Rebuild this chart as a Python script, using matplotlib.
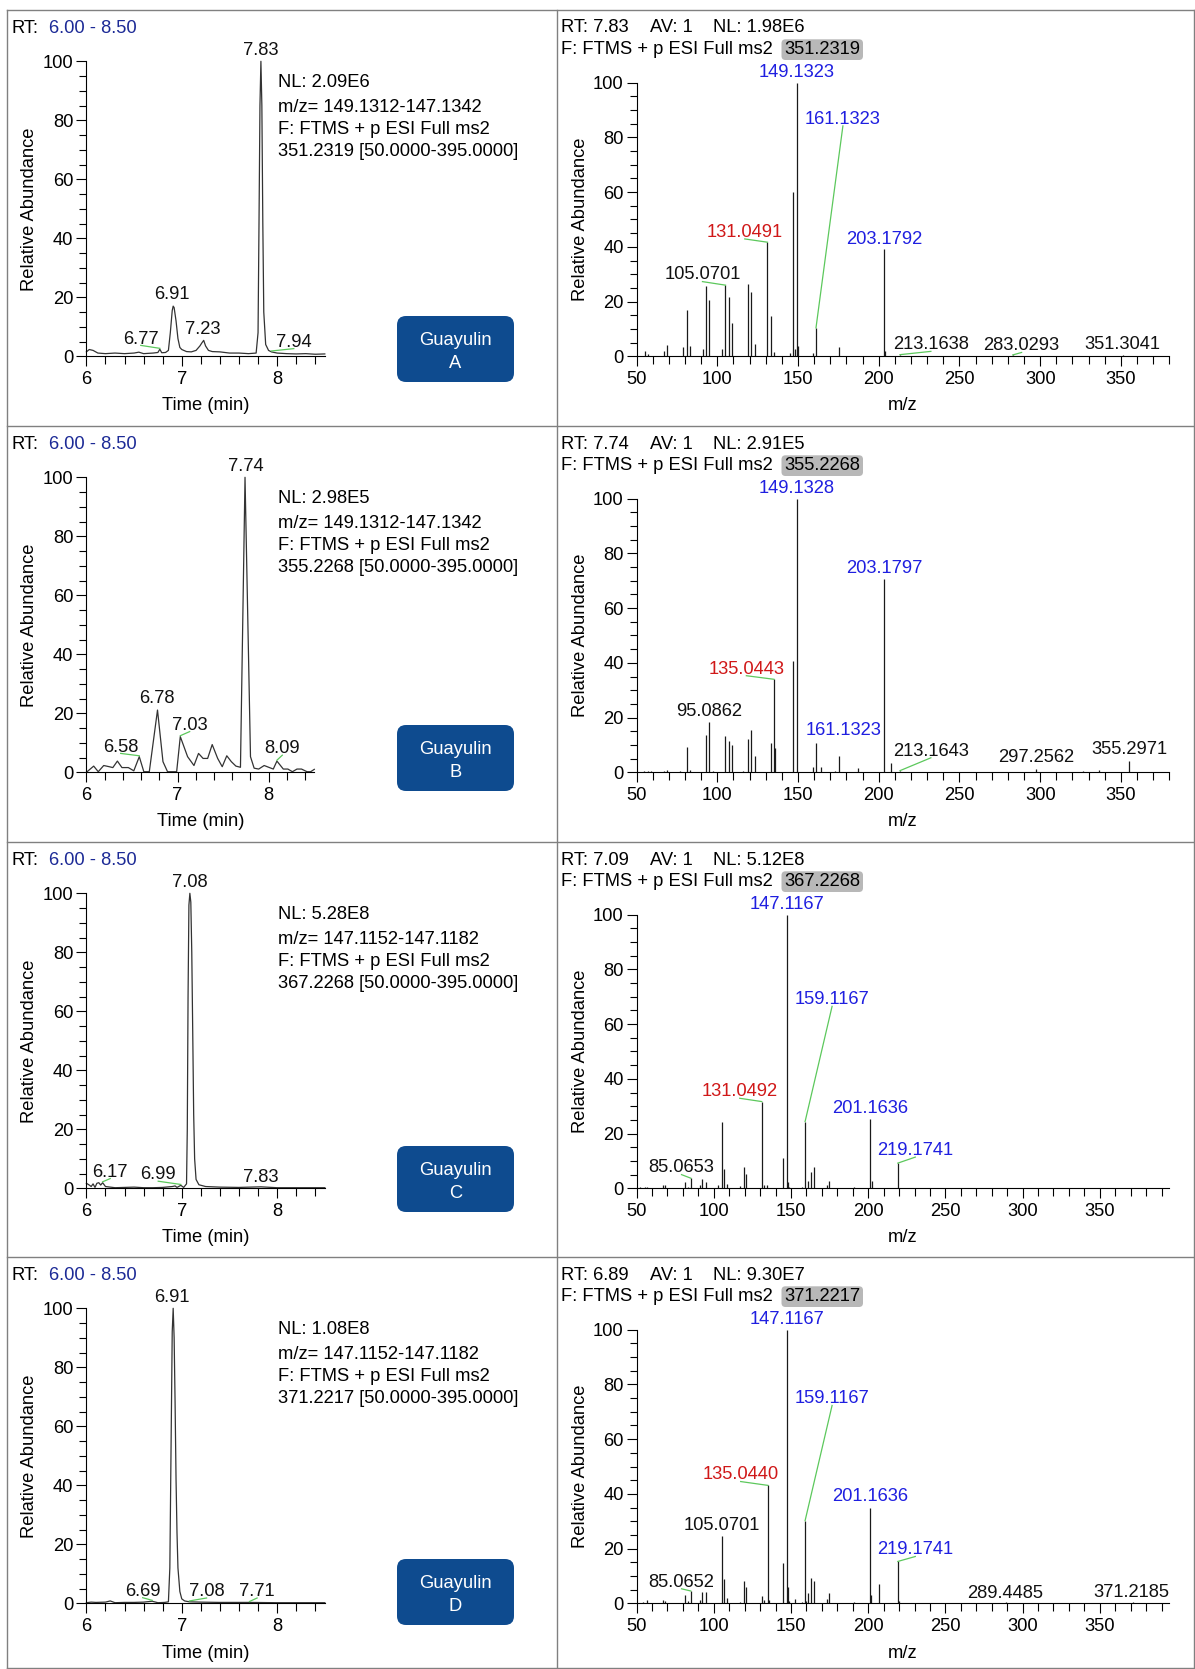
import numpy as np
import matplotlib
import matplotlib.pyplot as plt
from matplotlib.patches import FancyBboxPatch
from matplotlib.ticker import MultipleLocator, FormatStrFormatter

matplotlib.rcParams.update({'font.family': 'Liberation Sans', 'font.size': 13.2})

# ---- chromatograms (RT min, relative abundance) ----
rt_a = [6.00, 6.03, 6.07, 6.12, 6.20, 6.30, 6.40, 6.50, 6.55, 6.60, 6.70, 6.75, 6.77, 6.79,
        6.83, 6.86, 6.88, 6.90, 6.91, 6.92, 6.94, 6.96, 6.98, 7.00, 7.05, 7.10, 7.15, 7.19,
        7.21, 7.23, 7.25, 7.28, 7.32, 7.40, 7.50, 7.60, 7.70, 7.78, 7.80, 7.81, 7.82, 7.83,
        7.84, 7.85, 7.86, 7.88, 7.91, 7.94, 8.00, 8.10, 8.20, 8.30, 8.40, 8.50]
ab_a = [1.5, 2.3, 2.0, 1.1, 0.9, 1.1, 0.9, 1.1, 1.4, 0.9, 1.1, 1.3, 2.4, 1.2,
        1.3, 2.0, 8.0, 15.5, 17.0, 16.5, 12.0, 6.0, 3.0, 2.3, 1.6, 1.5, 2.0, 3.5,
        4.5, 5.4, 3.5, 2.0, 1.6, 1.5, 1.1, 1.1, 0.9, 1.1, 8.0, 45.0, 85.0, 100.0,
        85.0, 45.0, 15.0, 4.0, 2.0, 1.5, 1.1, 0.9, 0.8, 0.9, 0.7, 0.8]

rt_b = [6.00, 6.08, 6.13, 6.19, 6.25, 6.29, 6.34, 6.39, 6.46, 6.52, 6.58, 6.63, 6.69, 6.78,
        6.84, 6.89, 6.99, 7.03, 7.11, 7.18, 7.23, 7.28, 7.33, 7.38, 7.44, 7.49, 7.54, 7.59,
        7.64, 7.69, 7.74, 7.80, 7.84, 7.89, 7.95, 8.00, 8.05, 8.09, 8.16, 8.21, 8.26, 8.31,
        8.36, 8.42, 8.46, 8.50]
ab_b = [0.0, 2.1, 0.2, 2.3, 1.9, 1.6, 3.8, 1.6, 1.6, 0.5, 5.3, 0.2, 0.2, 21.1,
        3.6, 0.2, 0.2, 12.1, 5.3, 2.3, 6.4, 4.7, 4.7, 9.4, 4.7, 1.9, 5.6, 3.6,
        2.1, 1.7, 100.0, 5.3, 1.4, 1.1, 2.3, 1.7, 1.1, 3.8, 1.1, 1.1, 0.2, 1.1,
        1.1, 0.2, 0.2, 1.0]

rt_c = [6.00, 6.03, 6.05, 6.07, 6.09, 6.11, 6.13, 6.15, 6.17, 6.20, 6.30, 6.40, 6.50, 6.60,
        6.70, 6.80, 6.90, 6.93, 6.95, 6.99, 7.02, 7.05, 7.058, 7.066, 7.075, 7.085, 7.095,
        7.105, 7.115, 7.125, 7.135, 7.15, 7.18, 7.25, 7.40, 7.60, 7.83, 8.00, 8.20, 8.50]
ab_c = [1.7, 1.1, 0.6, 1.5, 0.3, 1.7, 1.9, 1.1, 1.9, 0.6, 0.2, 0.3, 0.4, 0.2,
        0.2, 0.3, 0.6, 0.8, 0.3, 1.0, 0.3, 1.5, 20.0, 65.0, 96.0, 100.0, 97.0,
        80.0, 53.0, 25.0, 10.0, 3.0, 1.2, 0.6, 0.4, 0.3, 0.5, 0.2, 0.2, 0.2]

rt_d = [6.00, 6.05, 6.10, 6.20, 6.25, 6.30, 6.40, 6.50, 6.60, 6.69, 6.75, 6.82, 6.86, 6.875,
        6.89, 6.90, 6.91, 6.92, 6.93, 6.94, 6.95, 6.96, 6.98, 7.00, 7.03, 7.08, 7.20, 7.40,
        7.71, 8.00, 8.20, 8.50]
ab_d = [0.2, 0.4, 0.3, 0.4, 0.8, 0.2, 0.3, 0.3, 0.4, 0.7, 0.2, 0.3, 0.5, 12.0,
        60.0, 92.0, 100.0, 90.0, 68.0, 42.0, 24.0, 12.0, 4.0, 1.5, 0.8, 0.5, 0.4, 0.3,
        0.3, 0.2, 0.2, 0.2]

# ---- MS2 spectra (m/z, relative abundance) ----
mz_a = [55.05, 57.07, 67.05, 69.07, 79.05, 81.07, 83.09, 91.05, 93.07, 95.09, 103.05, 105.07,
        107.09, 109.10, 119.09, 121.10, 123.12, 131.05, 133.10, 135.12, 145.10, 147.12, 148.12,
        149.13, 150.13, 159.12, 161.13, 175.15, 203.18, 204.18, 213.16, 283.03, 351.30]
in_a = [1.8, 0.9, 2.0, 4.3, 3.3, 17.0, 3.7, 2.8, 25.6, 20.4, 2.6, 26.0,
        21.7, 12.1, 26.6, 23.4, 4.5, 41.7, 14.9, 1.6, 1.2, 60.1, 2.8,
        100.0, 3.7, 1.2, 10.4, 3.3, 39.2, 2.0, 0.6, 0.5, 0.6]

mz_b = [54.5, 57.07, 58.7, 67.05, 69.07, 77.04, 81.07, 83.09, 93.07, 95.09, 97.1, 105.07,
        107.09, 109.10, 115.8, 119.09, 121.10, 123.12, 133.10, 135.04, 135.5, 147.12, 149.13,
        159.12, 161.13, 164.4, 172.7, 175.15, 187.1, 203.18, 207.3, 213.16, 297.26, 326.8,
        336.7, 355.30]
in_b = [0.6, 0.6, 0.6, 0.6, 0.9, 0.4, 9.3, 0.9, 13.7, 18.4, 0.4, 13.3,
        11.4, 10.0, 0.6, 12.2, 15.3, 5.8, 10.6, 34.0, 8.8, 40.8, 100.0,
        1.8, 10.6, 2.1, 0.6, 6.0, 1.6, 70.6, 3.3, 0.6, 1.2, 0.6,
        0.8, 4.1]

mz_c = [52.2, 55.4, 56.9, 66.8, 68.3, 81.2, 83.4, 85.07, 90.9, 92.6, 95.2, 102.8, 105.07,
        106.8, 108.8, 116.8, 119.3, 120.6, 131.05, 132.7, 134.6, 144.7, 147.12, 148.0, 149.0,
        157.2, 159.12, 160.9, 163.0, 164.8, 173.2, 174.9, 191.0, 201.16, 202.5, 219.17]
in_c = [0.4, 0.4, 0.6, 1.1, 1.1, 2.4, 0.6, 3.7, 1.2, 3.4, 2.4, 1.2, 24.4,
        7.0, 1.5, 0.9, 7.7, 5.3, 31.7, 1.1, 1.1, 10.9, 100.0, 2.4, 0.6,
        0.4, 24.4, 2.8, 6.1, 7.7, 1.2, 2.6, 0.6, 25.3, 2.6, 9.2]

mz_d = [54.3, 56.9, 66.8, 68.3, 81.2, 83.4, 85.07, 90.9, 92.6, 95.2, 105.07, 106.8, 108.8,
        116.8, 119.3, 120.6, 131.0, 132.7, 135.04, 135.9, 144.7, 147.12, 147.8, 149.0, 152.9,
        157.2, 159.12, 160.0, 160.9, 163.0, 165.2, 173.2, 174.9, 191.0, 201.16, 202.0, 206.8,
        219.17, 220.1, 289.45, 371.22]
in_d = [0.4, 1.1, 1.1, 0.9, 3.1, 0.9, 4.5, 1.2, 4.0, 4.0, 24.6, 8.8, 1.8,
        0.6, 8.0, 5.8, 2.8, 1.2, 43.1, 1.2, 14.7, 100.0, 5.8, 0.9, 1.5,
        0.6, 30.2, 0.9, 3.7, 9.2, 8.2, 1.5, 3.7, 0.6, 34.9, 3.1, 7.0,
        15.3, 0.9, 0.3, 0.3]

# ---- texts ----
compounds = ['A', 'B', 'C', 'D']
chrom_nl = ['2.09E6', '2.98E5', '5.28E8', '1.08E8']
chrom_mz = ['149.1312-147.1342', '149.1312-147.1342', '147.1152-147.1182', '147.1152-147.1182']
precursor = ['351.2319', '355.2268', '367.2268', '371.2217']
spec_rt = ['7.83', '7.74', '7.09', '6.89']
spec_nl = ['1.98E6', '2.91E5', '5.12E8', '9.30E7']
spec_xmax = [380, 380, 395, 395]

BLUE, RED, BLACK = '#1f1fe0', '#d01818', '#111111'
GREEN = '#5cc85c'
NAVY = '#1c2a96'
BOXBLUE = '#0e4b8f'

# peak labels: text, peak x, label x, label baseline y, leader
chrom_labels = [
    [('7.83', 7.83, 7.83, 102.0, False), ('6.91', 6.91, 6.895, 19.3, False),
     ('7.23', 7.23, 7.22, 7.7, False), ('6.77', 6.77, 6.57, 4.3, True),
     ('7.94', 7.94, 8.175, 3.2, True)],
    [('7.74', 7.74, 7.745, 102.0, False), ('6.78', 6.78, 6.776, 23.4, False),
     ('7.03', 7.03, 7.133, 14.4, True), ('6.58', 6.58, 6.376, 7.0, True),
     ('8.09', 8.09, 8.149, 6.4, True)],
    [('7.08', 7.08, 7.084, 102.0, False), ('6.17', 6.17, 6.25, 3.9, True),
     ('6.99', 6.99, 6.753, 3.0, True), ('7.83', 7.83, 7.824, 2.3, False)],
    [('6.91', 6.91, 6.895, 102.0, False), ('6.69', 6.69, 6.59, 2.5, True),
     ('7.08', 7.08, 7.26, 2.4, True), ('7.71', 7.71, 7.79, 2.4, True)],
]

spec_labels = [
    [('149.1323', 149.13, BLUE, 149.13, 102.2, False), ('161.1323', 161.13, BLUE, 177.8, 85.0, True),
     ('131.0491', 131.05, RED, 117.0, 43.7, True), ('105.0701', 105.07, BLACK, 90.8, 28.1, True),
     ('203.1792', 203.18, BLUE, 203.2, 41.2, False), ('213.1638', 213.16, BLACK, 232.3, 2.6, True),
     ('283.0293', 283.03, BLACK, 288.5, 2.2, True), ('351.3041', 351.30, BLACK, 351.0, 2.8, False)],
    [('149.1328', 149.13, BLUE, 149.13, 102.2, False), ('203.1797', 203.18, BLUE, 203.2, 72.8, False),
     ('135.0443', 135.04, RED, 118.0, 36.1, True), ('95.0862', 95.09, BLACK, 94.7, 20.4, False),
     ('161.1323', 161.13, BLUE, 178.2, 13.5, False), ('213.1643', 213.16, BLACK, 232.3, 6.1, True),
     ('297.2562', 297.26, BLACK, 297.5, 3.9, False), ('355.2971', 355.30, BLACK, 355.0, 6.8, False)],
    [('147.1167', 147.12, BLUE, 147.12, 102.2, False), ('159.1167', 159.12, BLUE, 176.6, 67.3, True),
     ('131.0492', 131.05, RED, 116.8, 33.7, True), ('85.0653', 85.07, BLACK, 79.1, 5.8, True),
     ('201.1636', 201.16, BLUE, 201.2, 27.5, False), ('219.1741', 219.17, BLUE, 230.5, 12.2, True)],
    [('147.1167', 147.12, BLUE, 147.12, 102.2, False), ('159.1167', 159.12, BLUE, 176.6, 73.1, True),
     ('135.0440', 135.04, RED, 117.4, 45.3, True), ('105.0701', 105.07, BLACK, 104.9, 26.9, False),
     ('85.0652', 85.07, BLACK, 79.1, 6.1, True), ('201.1636', 201.16, BLUE, 201.2, 37.3, False),
     ('219.1741', 219.17, BLUE, 230.5, 17.9, True), ('289.4485', 289.45, BLACK, 288.6, 2.1, False),
     ('371.2185', 371.22, BLACK, 370.4, 2.4, False)],
]

chroms = [(rt_a, ab_a), (rt_b, ab_b), (rt_c, ab_c), (rt_d, ab_d)]
spectra = [(mz_a, in_a), (mz_b, in_b), (mz_c, in_c), (mz_d, in_d)]

W, H = 1195, 1669
FS = 13.2
row_top = [10, 426, 842, 1257]
chrom_right = [324.8, 314.3, 324.8, 324.8]
box_top = [306, 299, 304, 302]


def px_axes(fig, left, right, top, bottom):
    return fig.add_axes([left / W, 1 - bottom / H, (right - left) / W, (bottom - top) / H])


def style_axes(ax, xmaj, xmin):
    for s in ('top', 'right'):
        ax.spines[s].set_visible(False)
    for s in ('left', 'bottom'):
        ax.spines[s].set_linewidth(0.8)
    ax.set_facecolor('none')
    ax.set_ylim(0, 100)
    ax.yaxis.set_major_locator(MultipleLocator(20))
    ax.yaxis.set_minor_locator(MultipleLocator(5))
    ax.xaxis.set_major_locator(MultipleLocator(xmaj))
    ax.xaxis.set_minor_locator(MultipleLocator(xmin))
    ax.xaxis.set_major_formatter(FormatStrFormatter('%d'))
    ax.yaxis.set_major_formatter(FormatStrFormatter('%d'))
    ax.tick_params(which='major', direction='out', length=7.2, width=0.8, labelsize=FS)
    ax.tick_params(which='minor', direction='out', length=4.7, width=0.8)
    ax.tick_params(axis='y', which='major', pad=2.2)
    ax.tick_params(axis='x', which='major', pad=3.5)
    ax.tick_params(axis='x', which='minor', length=6.0)


def leader(ax, x0, y0, x1, y1):
    ax.plot([x0, x1], [y0, y1], color=GREEN, lw=0.9, clip_on=False, zorder=3)


fig = plt.figure(figsize=(W / 100, H / 100), dpi=100)
bg = fig.add_axes([0, 0, 1, 1])
bg.set_xlim(0, W)
bg.set_ylim(H, 0)
bg.axis('off')

# panel frame
for y in row_top + [1668]:
    bg.plot([7, 1194], [y, y], color='#808080', lw=1)
for x in (7, 557, 1194):
    bg.plot([x, x], [10, 1668], color='#808080', lw=1)

for r in range(4):
    T = row_top[r]

    # ---------- chromatogram ----------
    left, right = 86.4, chrom_right[r]
    top, bottom = T + 51.3, T + 346.3
    ax = px_axes(fig, left, right, top, bottom)
    style_axes(ax, 1, 0.2)
    ax.set_xlim(6, 8.5)
    t, y = chroms[r]
    ax.plot(t, y, color='#333333', lw=0.9, clip_on=False)
    for text, xp, lx, ly, lead in chrom_labels[r]:
        ax.text(lx, ly, text, ha='center', va='baseline', fontsize=FS, color=BLACK, clip_on=False)
        if lead:
            yp = np.interp(xp, t, y)
            leader(ax, lx, ly - 0.6, xp, yp + 0.3)
    ax.text((30 - left) / (right - left), 0.5, 'Relative Abundance', rotation=90,
            ha='center', va='center', fontsize=FS, transform=ax.transAxes)
    ax.text(0.5, -(T + 396 - bottom) / (bottom - top), 'Time (min)', ha='center',
            va='center', fontsize=FS, transform=ax.transAxes)

    bg.text(11.8, T + 22.7, 'RT:', fontsize=FS, va='baseline')
    bg.text(49.3, T + 22.7, '6.00 - 8.50', fontsize=FS, va='baseline', color=NAVY)
    info = ['NL: ' + chrom_nl[r], 'm/z= ' + chrom_mz[r], 'F: FTMS + p ESI Full ms2',
            precursor[r] + ' [50.0000-395.0000]']
    for line, dy in zip(info, (77.3, 101.5, 123.5, 146.0)):
        bg.text(277.9, T + dy, line, fontsize=FS, va='baseline')

    bt = T + box_top[r]
    bg.add_patch(FancyBboxPatch((397, bt), 117, 66, boxstyle='round,pad=0,rounding_size=9',
                                fc=BOXBLUE, ec='none'))
    bg.text(455.5, bt + 24.7, 'Guayulin', color='white', ha='center', va='center', fontsize=FS)
    bg.text(455.5, bt + 47.3, compounds[r], color='white', ha='center', va='center', fontsize=FS)

    # ---------- MS2 spectrum ----------
    left, right = 636.6, 1169.3
    top, bottom = T + 72.7, T + 346.3
    ax = px_axes(fig, left, right, top, bottom)
    style_axes(ax, 50, 10)
    ax.set_xlim(50, spec_xmax[r])
    mz, inten = np.array(spectra[r][0]), np.array(spectra[r][1])
    ax.vlines(mz, 0, inten, colors='#1a1a1a', lw=0.9, clip_on=False)
    for text, xp, col, lx, ly, lead in spec_labels[r]:
        ax.text(lx, ly, text, ha='center', va='baseline', fontsize=FS, color=col, clip_on=False)
        if lead:
            yp = inten[np.argmin(np.abs(mz - xp))]
            leader(ax, lx, ly - 0.8, xp, yp)
    ax.text((580.3 - left) / (right - left), 0.5, 'Relative Abundance', rotation=90,
            ha='center', va='center', fontsize=FS, transform=ax.transAxes)
    ax.text(0.5, -(T + 396 - bottom) / (bottom - top), 'm/z', ha='center',
            va='center', fontsize=FS, transform=ax.transAxes)

    bg.text(561, T + 22.5, 'RT: ' + spec_rt[r], fontsize=FS, va='baseline')
    bg.text(650, T + 22.5, 'AV: 1', fontsize=FS, va='baseline')
    bg.text(713.5, T + 22.5, 'NL: ' + spec_nl[r], fontsize=FS, va='baseline')
    bg.text(561, T + 44, 'F: FTMS + p ESI Full ms2', fontsize=FS, va='baseline')
    bg.add_patch(FancyBboxPatch((781.5, T + 29.3), 81.5, 20.7,
                                boxstyle='round,pad=0,rounding_size=4', fc='#b8b8b8', ec='none'))
    bg.text(822.2, T + 44, precursor[r], fontsize=FS, va='baseline', ha='center')

fig.savefig('out.png', dpi=100)
